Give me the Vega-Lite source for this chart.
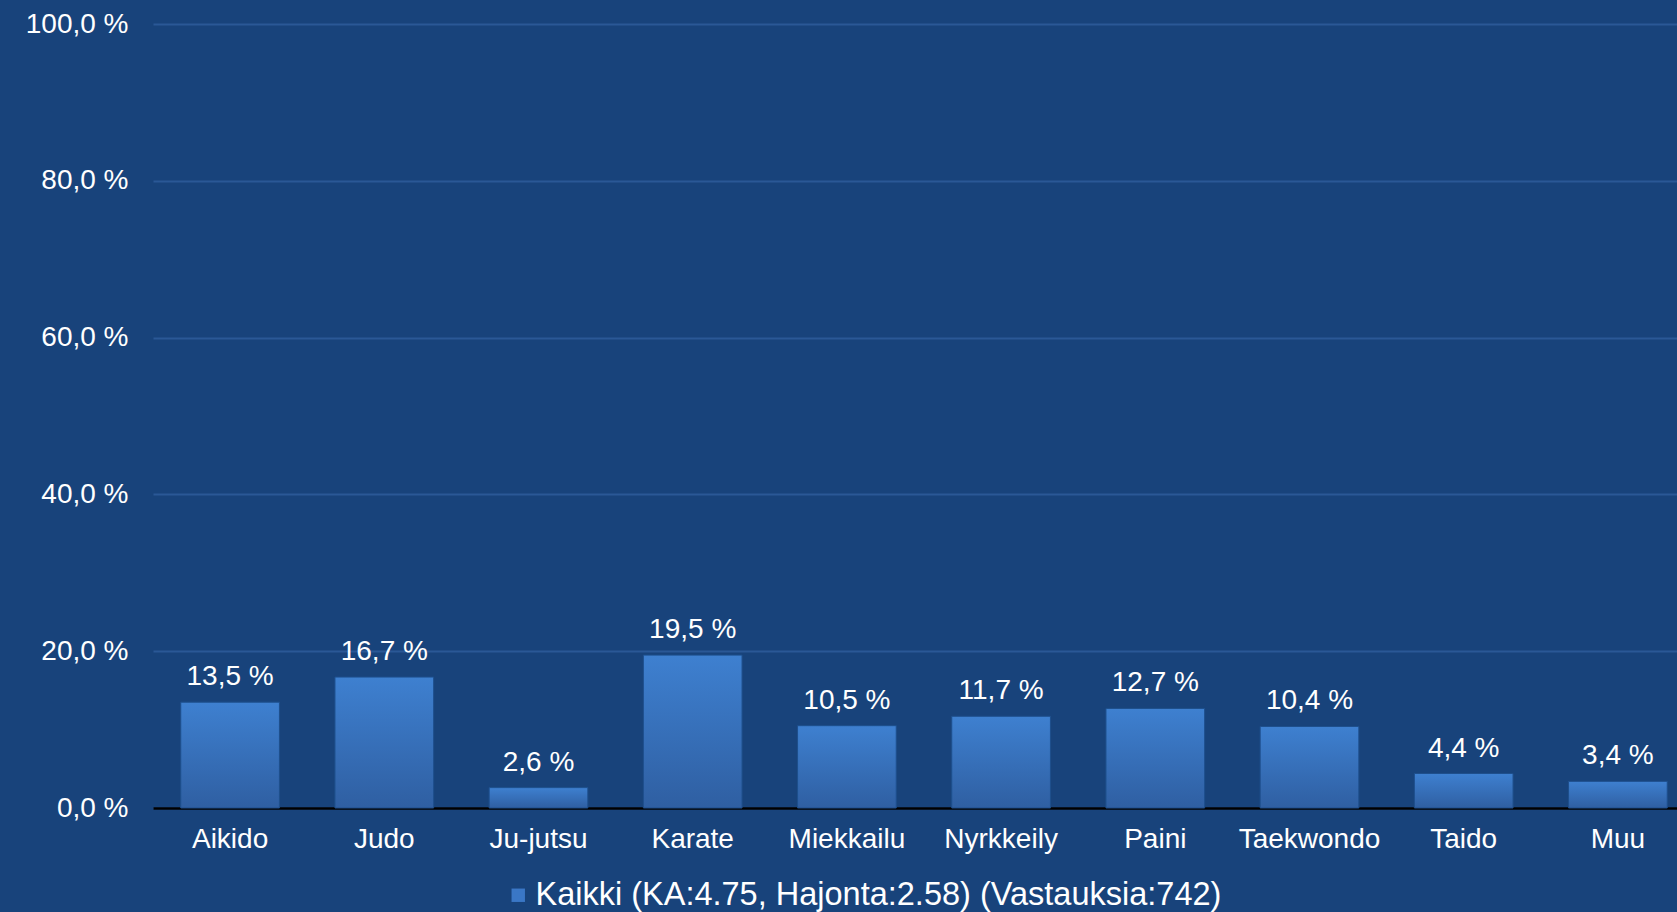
{
  "$schema": "https://vega.github.io/schema/vega-lite/v6.json",
  "width": 1524,
  "height": 784,
  "autosize": {"type": "none"},
  "padding": {"left": 153, "top": 24, "right": 0, "bottom": 104},
  "background": "#18437b",
  "config": {
    "view": {"stroke": null},
    "font": "Liberation Sans"
  },
  "data": {
    "values": [
      {"laji": "Aikido", "osuus": 13.5},
      {"laji": "Judo", "osuus": 16.7},
      {"laji": "Ju-jutsu", "osuus": 2.6},
      {"laji": "Karate", "osuus": 19.5},
      {"laji": "Miekkailu", "osuus": 10.5},
      {"laji": "Nyrkkeily", "osuus": 11.7},
      {"laji": "Paini", "osuus": 12.7},
      {"laji": "Taekwondo", "osuus": 10.4},
      {"laji": "Taido", "osuus": 4.4},
      {"laji": "Muu", "osuus": 3.4}
    ]
  },
  "encoding": {
    "x": {
      "field": "laji",
      "type": "nominal",
      "sort": null,
      "scale": {"range": [0, 1542], "paddingInner": 0.36, "paddingOuter": 0.18},
      "axis": {
        "title": null,
        "labelAngle": 0,
        "labelColor": "white",
        "labelFont": "Liberation Sans",
        "labelFontSize": 28,
        "labelPadding": 17,
        "ticks": false,
        "domain": true,
        "domainColor": "#000000",
        "domainWidth": 2.5,
        "grid": false
      }
    },
    "y": {
      "field": "osuus",
      "type": "quantitative",
      "scale": {"domain": [0, 100], "nice": false},
      "axis": {
        "title": null,
        "values": [0, 20, 40, 60, 80, 100],
        "labelExpr": "replace(format(datum.value, '.1f'), '.', ',') + ' %'",
        "labelColor": "white",
        "labelFont": "Liberation Sans",
        "labelFontSize": 28,
        "labelPadding": 25,
        "ticks": false,
        "domain": false,
        "grid": true,
        "gridColor": "#2a5896",
        "gridWidth": 2
      }
    }
  },
  "layer": [
    {
      "mark": {
        "type": "bar",
        "stroke": "#1e4f8c",
        "strokeWidth": 1,
        "color": {
          "gradient": "linear",
          "x1": 0, "y1": 0, "x2": 0, "y2": 1,
          "stops": [
            {"offset": 0, "color": "#3e80d0"},
            {"offset": 1, "color": "#2f5fa2"}
          ]
        }
      }
    },
    {
      "mark": {
        "type": "text",
        "color": "white",
        "font": "Liberation Sans",
        "fontSize": 28,
        "baseline": "alphabetic",
        "dy": -17,
        "text": {"expr": "replace(format(datum.osuus, '.1f'), '.', ',') + ' %'"}
      }
    },
    {
      "mark": {"type": "square", "opacity": 0},
      "encoding": {
        "y": {"datum": 0},
        "color": {
          "datum": "Kaikki (KA:4.75, Hajonta:2.58) (Vastauksia:742)",
          "scale": {"range": ["#3a77c6"]},
          "legend": {
            "title": null,
            "orient": "none",
            "legendX": 349,
            "legendY": 855,
            "symbolType": "square",
            "symbolSize": 180,
            "symbolOpacity": 1,
            "symbolStrokeWidth": 0,
            "labelColor": "white",
            "labelFont": "Liberation Sans",
            "labelFontSize": 32.5,
            "labelOffset": 1,
            "labelLimit": 1000
          }
        }
      }
    }
  ]
}
